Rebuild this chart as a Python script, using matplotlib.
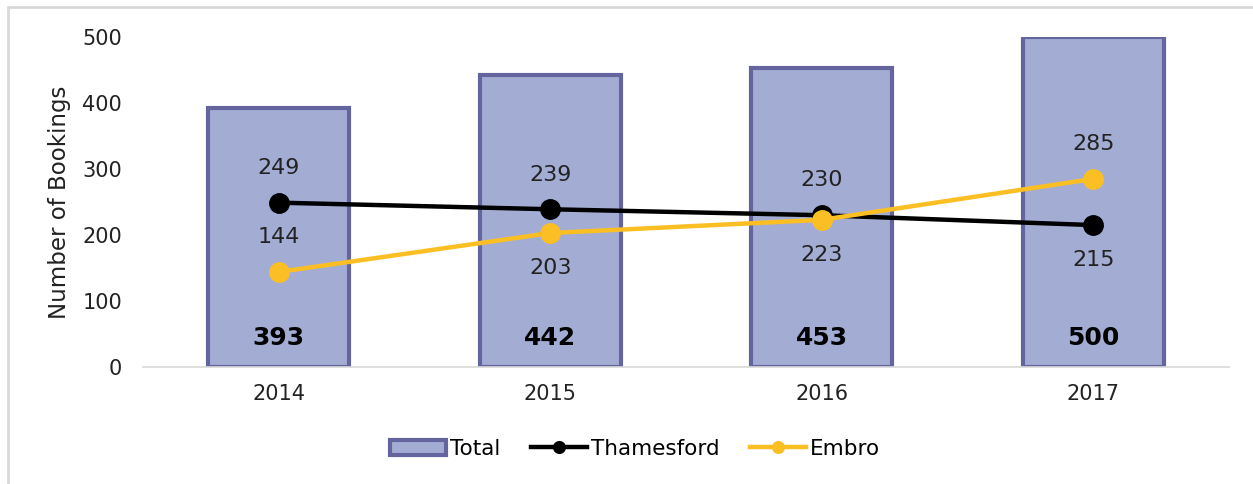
import matplotlib
matplotlib.use("Agg")
import matplotlib.pyplot as plt
from matplotlib.patches import Rectangle
import numpy as np

years = ["2014", "2015", "2016", "2017"]
total = [393, 442, 453, 500]
thamesford = [249, 239, 230, 215]
embro = [144, 203, 223, 285]
# label placement: +1 above, -1 below
thames_pos = [1, 1, 1, -1]
embro_pos = [1, -1, -1, 1]

plt.rcParams['font.family'] = ['DejaVu Sans']

W, H = 1253, 484
fig = plt.figure(figsize=(W/100, H/100), dpi=100)
ax = fig.add_axes([143/W, 1-367/H, (1229-143)/W, (367-37)/H])

x = np.arange(len(years))
bar_fc = "#A3ADD4"
bar_ec = "#64659E"
yellow = "#FBBF24"

ax.bar(x, total, width=0.52, color=bar_fc, edgecolor=bar_ec, linewidth=3, label="Total", zorder=2)
ax.plot(x, thamesford, color="black", lw=3.2, marker="o", ms=14, label="Thamesford", zorder=3)
ax.plot(x, embro, color=yellow, lw=3.2, marker="o", ms=14, label="Embro", zorder=3)

for xi, v in zip(x, total):
    ax.text(xi, 44, str(v), ha="center", va="center", fontsize=18, fontweight="bold", color="black", zorder=4)
for xi, v, p in zip(x, thamesford, thames_pos):
    ax.annotate(str(v), (xi, v), xytext=(0, 25*p), textcoords="offset points",
                ha="center", va="center", fontsize=16, color="#222222", zorder=4)
for xi, v, p in zip(x, embro, embro_pos):
    ax.annotate(str(v), (xi, v), xytext=(0, 25*p), textcoords="offset points",
                ha="center", va="center", fontsize=16, color="#222222", zorder=4)

ax.set_xlim(-0.5, 3.5)
ax.set_ylim(0, 500)
ax.set_yticks([0, 100, 200, 300, 400, 500])
ax.set_xticks(x)
ax.set_xticklabels(years)
ax.tick_params(axis="both", length=0, labelsize=15, colors="#222222")
ax.tick_params(axis="x", pad=12)
ax.tick_params(axis="y", pad=15)
for s in ["top", "right", "left"]:
    ax.spines[s].set_visible(False)
ax.spines["bottom"].set_color("#D9D9D9")
ax.spines["bottom"].set_linewidth(1.2)
ax.set_ylabel("Number of Bookings", fontsize=16.5, color="#222222", labelpad=8)

handles, labels = ax.get_legend_handles_labels()
order = [labels.index("Total"), labels.index("Thamesford"), labels.index("Embro")]
leg = ax.legend([handles[i] for i in order], [labels[i] for i in order],
                loc="center", bbox_to_anchor=((635-143)/1086, (367-449)/(367-37)), ncol=3, frameon=False,
                fontsize=15.5, handlelength=2.6, handletextpad=0.2, columnspacing=1.4,
                markerscale=0.6)

# figure frame (light gray border at top/left)
fig.patches.append(Rectangle((8/W, -0.1), 1.2, 1 - 7/H + 0.1, transform=fig.transFigure,
                             fill=False, edgecolor="#D9D9D9", linewidth=2))

fig.savefig("out.png", dpi=100)
